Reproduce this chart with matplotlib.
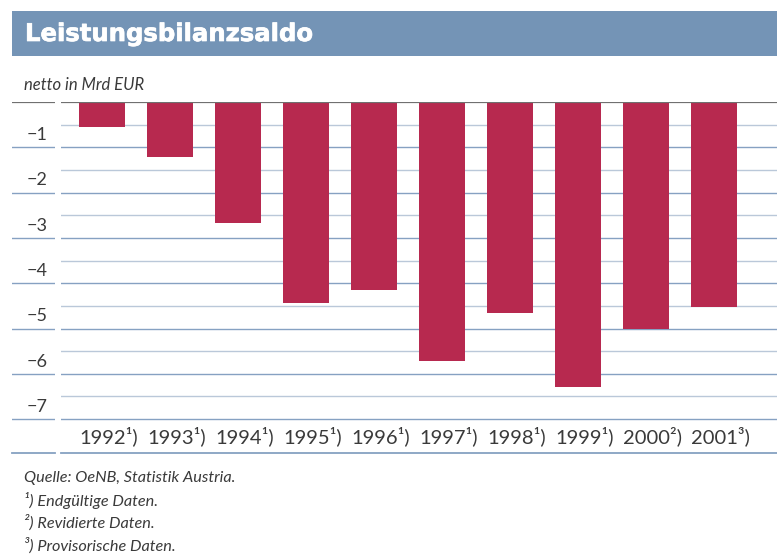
import matplotlib
matplotlib.use("Agg")
import matplotlib.pyplot as plt
from matplotlib.patches import Rectangle
import matplotlib.patheffects as pe

years = ["1992", "1993", "1994", "1995", "1996", "1997", "1998", "1999", "2000", "2001"]
notes = ["¹", "¹", "¹", "¹", "¹", "¹", "¹", "¹", "²", "³"]
values = [-0.55, -1.21, -2.68, -4.44, -4.15, -5.71, -4.66, -6.29, -5.01, -4.53]
ytick_vals = [-1, -2, -3, -4, -5, -6, -7]
title = "Leistungsbilanzsaldo"
unit = "netto in Mrd EUR"
footnotes = ["Quelle: OeNB, Statistik Austria.",
             "¹) Endgültige Daten.",
             "²) Revidierte Daten.",
             "³) Provisorische Daten."]

W, H = 777, 560
fig = plt.figure(figsize=(W / 100, H / 100), dpi=100)
fig.patch.set_facecolor("white")

BAR = "#B7294F"
GRID_DARK = "#86A1C2"
GRID_LIGHT = "#BAC8D9"
TOPLINE = "#707070"
TXT = "#3a3a3a"
FONT = "Lato"

def fx(px):
    return px / W

def fy(py):
    return 1 - py / H

# title bar
fig.patches.append(Rectangle((fx(12), fy(56)), fx(777 - 12), (56 - 11) / H,
                             transform=fig.transFigure, facecolor="#7494B6",
                             edgecolor="none", zorder=0))
fig.text(fx(25), fy(34), title, color="white", fontsize=17.5, fontweight="bold",
         family="DejaVu Sans", va="center", ha="left",
         path_effects=[pe.withStroke(linewidth=0.5, foreground="white")])
fig.text(fx(24), fy(85), unit, color=TXT, fontsize=12, style="italic",
         family=FONT, va="center", ha="left")

top_px, bot_px = 102, 453
ymin = -(bot_px - top_px) / 45.3
ax = fig.add_axes([fx(61), fy(bot_px), fx(777 - 61), (bot_px - top_px) / H])
axl = fig.add_axes([fx(12), fy(bot_px), fx(55 - 12), (bot_px - top_px) / H], sharey=ax)

x = list(range(len(years)))
ax.set_xlim(-0.60, 9.93)
ax.set_ylim(ymin, 0)

# grid lines
for k in range(1, 15):
    v = -0.5 * k
    col = GRID_DARK if k % 2 == 0 else GRID_LIGHT
    ax.axhline(v, color=col, lw=1.0, zorder=1)
ax.axhline(0, color=TOPLINE, lw=1.6, zorder=3)
ax.axhline(ymin, color=GRID_DARK, lw=1.3, zorder=1, clip_on=False)

ax.bar(x, values, width=0.68, color=BAR, zorder=2)

for xi, yr, nt in zip(x, years, notes):
    ax.text(xi + 0.1, -7.38, f"{yr}{nt})", ha="center", va="center",
            fontsize=14.5, color=TXT, family=FONT)

for a in (ax, axl):
    a.set_axis_off()

axl.set_xlim(0, 1)
axl.axhline(0, color=TOPLINE, lw=1.6)
for v in ytick_vals:
    axl.axhline(v, color=GRID_DARK, lw=1.0)
    axl.text(0.82, v + 0.27, f"−{abs(v)}", ha="right", va="center",
             fontsize=13, color=TXT, family=FONT)
axl.axhline(ymin, color=GRID_DARK, lw=1.3, clip_on=False)

for i, t in enumerate(footnotes):
    fig.text(fx(24), fy(478 + 22.5 * i), t, color=TXT, fontsize=11.7,
             style="italic", family=FONT, va="center", ha="left")

fig.savefig("out.png", dpi=100, facecolor="white")
